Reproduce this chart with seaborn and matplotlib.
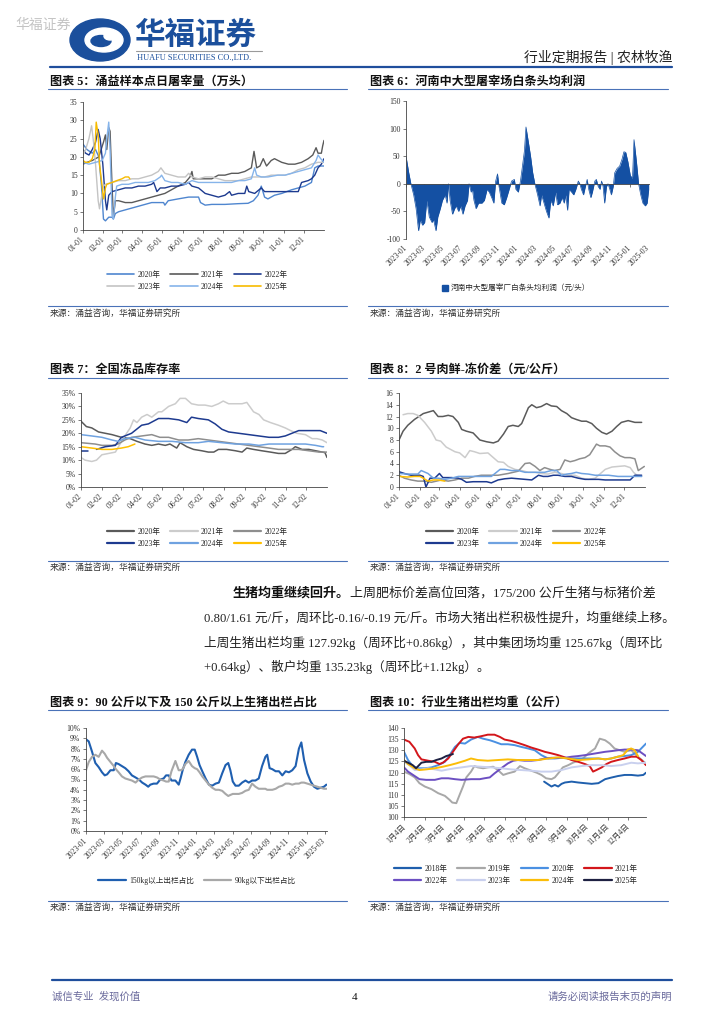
import numpy as np
import pandas as pd
import seaborn as sns
import matplotlib.pyplot as plt
from matplotlib.lines import Line2D
from matplotlib.patches import Patch, Ellipse

# ---------------- data ----------------
# 图表5 涌益样本点日屠宰量 (day of year, 万头)
c5_d20 = [0, 6, 14, 19, 24, 28, 31, 34, 39, 44, 46, 49, 54, 64, 74, 84, 94, 104, 114, 122, 124, 129, 144, 160, 175, 178, 185, 195, 215, 235, 250, 258, 265, 270, 275, 280, 290, 301, 316, 326, 336, 346, 351, 356, 365]
c5_v20 = [23.5, 22, 21, 22, 20, 12, 3, 2.5, 3.5, 3.5, 3, 4.5, 5, 5.5, 6, 6.5, 7, 7.5, 7.5, 7.5, 6.8, 8, 8.5, 9, 9, 7.5, 6.8, 7, 7, 7.2, 7.3, 8, 9.5, 12, 9, 8.5, 9.5, 10, 11, 11.5, 12, 13, 17, 17.5, 17.5]
c5_d21 = [0, 6, 14, 24, 31, 34, 36, 39, 41, 44, 46, 49, 54, 64, 74, 84, 94, 104, 114, 124, 134, 144, 155, 162, 165, 167, 175, 185, 195, 205, 215, 225, 235, 245, 255, 259, 263, 268, 273, 278, 285, 290, 301, 311, 321, 331, 341, 348, 353, 356, 361, 363, 365]
c5_v21 = [18, 18.5, 19, 20, 24, 26, 22, 28, 27, 12, 3.5, 8, 8, 7.5, 7.5, 8, 8.5, 9, 9.5, 10, 11, 12, 13, 14.5, 16, 14, 14, 14, 14, 15, 15, 15.5, 15.5, 16, 17, 21.5, 17, 17.5, 19.5, 17.5, 19, 19.5, 18.5, 18, 18, 18.5, 19.5, 20.5, 22.5, 21, 21, 23, 24.5]
c5_d22 = [0, 4, 9, 14, 19, 23, 26, 30, 34, 36, 39, 44, 54, 64, 74, 84, 94, 104, 107, 112, 117, 124, 134, 144, 155, 160, 165, 175, 185, 195, 205, 215, 222, 225, 235, 245, 248, 251, 260, 270, 275, 285, 295, 306, 316, 326, 331, 341, 346, 351, 356, 361, 365]
c5_v22 = [22, 21, 20.5, 22, 24, 27.5, 25, 18, 8, 5.5, 9.5, 10.5, 11, 11.5, 11.5, 12, 12, 12.5, 13, 10.5, 11.5, 11.5, 12, 12, 12.5, 13, 12, 11.5, 10, 9.5, 9, 9.5, 10.5, 9.5, 10, 10, 12, 10.5, 10, 11.5, 10.5, 10.5, 10.5, 10.5, 10.5, 10.5, 13, 13.5, 14, 15, 17, 18, 19.5]
c5_d23 = [0, 4, 9, 13, 16, 19, 23, 25, 28, 31, 34, 44, 54, 64, 74, 84, 94, 104, 114, 118, 122, 124, 134, 144, 155, 160, 165, 175, 185, 195, 205, 215, 225, 235, 245, 255, 265, 275, 285, 295, 306, 316, 326, 336, 346, 356, 365]
c5_v23 = [20.5, 22, 25, 28.5, 24, 18, 8, 5.8, 9, 12, 12.5, 13, 13.5, 13.5, 14, 14, 14.5, 15, 16, 17, 16, 15.5, 15, 14.5, 14.5, 15.5, 14.5, 14, 14.5, 14.5, 14, 13.5, 13.5, 13.5, 14, 14.5, 14.5, 14.5, 15, 15, 15, 15.5, 16.5, 17, 18, 18.5, 18.5]
c5_d24 = [0, 9, 19, 29, 34, 36, 39, 41, 44, 46, 49, 51, 59, 69, 79, 89, 99, 109, 117, 119, 124, 134, 144, 155, 165, 175, 185, 195, 205, 215, 225, 235, 245, 255, 260, 263, 270, 280, 295, 306, 316, 326, 336, 346, 353, 356, 360, 365]
c5_v24 = [18.5, 18, 18.5, 19, 21, 25, 29.5, 22, 4, 3, 9, 12, 12.5, 12.5, 13, 13, 13, 13.5, 14.5, 15, 13.5, 13, 13, 12.5, 13.5, 13, 13, 13, 13, 13, 13, 13.5, 13.5, 14, 17, 15, 14.5, 14.5, 15, 15, 15.5, 16, 16.5, 17, 19, 20.5, 19.5, 18.5]
c5_d25 = [0, 4, 9, 14, 18, 20, 23, 25, 29, 31, 34, 36, 44, 51, 59, 64, 69, 71]
c5_v25 = [19, 18.5, 18.5, 19.5, 22, 29.5, 26, 18, 12, 8.5, 11.5, 12.5, 13, 13.5, 14, 14.5, 14.5, 14]

# 图表6 河南中大型屠宰场白条头均利润 (days since 2023-01-01, 元/头)
c6_day = [0, 9, 16, 25, 33, 41, 47, 54, 61, 68, 76, 85, 90, 98, 104, 112, 119, 128, 134, 139, 144, 152, 159, 164, 172, 179, 186, 193, 201, 206, 213, 217, 222, 229, 237, 248, 256, 265, 272, 280, 287, 293, 299, 304, 313, 321, 329, 337, 345, 354, 359, 367, 374, 380, 387, 392, 400, 407, 414, 421, 430, 438, 443, 451, 459, 467, 473, 481, 489, 495, 503, 510, 517, 522, 528, 533, 541, 548, 555, 563, 568, 573, 580, 586, 592, 597, 604, 609, 617, 622, 628, 634, 639, 644, 649, 655, 660, 666, 671, 677, 682, 690, 698, 706, 712, 718, 725, 733, 740, 745, 753, 760, 767, 774, 782, 788, 793]
c6_val = [50, 20, 0, -20, -45, -85, -65, -75, -70, -30, -60, -70, -65, -85, -60, -45, -30, -20, -35, 0, -30, -55, -45, -40, -50, -40, -55, -40, -30, 0, -15, -10, -30, -45, -35, -35, -30, -10, -15, -25, -35, 5, 18, -5, -35, -38, -25, -10, 5, 8, -10, -15, 5, 30, 60, 103, 75, 50, 20, 0, -20, -40, -20, -35, -50, -62, -30, -40, -15, -38, -35, -25, -35, -20, -48, -10, -15, -20, -10, 5, 0, -10, -20, -5, 8, -10, -25, -15, 5, 8, -5, -10, 5, -5, -35, -5, 0, -10, -20, -5, 20, 28, 32, 45, 58, 57, 40, 15, 10, 80, 40, 0, -20, -35, -40, -35, -10]

# 图表7 全国冻品库存率 (days after 01-02, %)
c7_d20 = [0, 8, 16, 26, 46, 60, 73, 83, 95, 105, 115, 125, 132, 142, 147, 157, 167, 179, 189, 197, 204, 216, 229, 239, 246, 256, 268, 281, 293, 303, 313, 318, 328, 338, 348, 358, 362, 365]
c7_v20 = [24.5, 22.5, 22, 20.5, 19.5, 18.5, 18, 17, 16, 15.5, 16, 15.5, 16, 14.5, 16.5, 15, 14, 13.5, 13, 13, 14, 14, 13.5, 13, 14.5, 14, 13.5, 13, 12.5, 12.5, 14, 15, 14, 14, 13.5, 13, 12.8, 11]
c7_d21 = [0, 6, 16, 23, 31, 41, 51, 58, 65, 73, 78, 83, 90, 98, 105, 115, 120, 130, 140, 147, 155, 164, 174, 184, 194, 204, 211, 219, 229, 239, 246, 256, 264, 271, 281, 293, 303, 311, 320, 333, 343, 350, 358, 365]
c7_v21 = [11, 10, 9.5, 10, 12, 12.5, 13, 16, 19, 22, 25, 24, 26, 27, 26, 28, 28, 30, 31, 33, 33, 31, 30.5, 30.5, 30, 31, 32, 31, 31, 31, 31.5, 28, 27, 25, 24, 23, 22, 21, 20, 19.5, 18, 18, 17.5, 16.5]
c7_d22 = [0, 21, 31, 46, 55, 65, 75, 90, 105, 117, 130, 145, 159, 174, 189, 204, 219, 234, 249, 264, 279, 293, 308, 323, 338, 353, 365]
c7_v22 = [16.5, 16, 15.5, 15.5, 16, 17.5, 18.5, 19, 19.5, 18.5, 18.5, 17.5, 17.5, 18, 17.5, 17, 16.5, 16, 15.5, 15, 14.5, 14, 14, 14, 13.5, 13, 13]
c7_d23 = [0, 10, 16, 23, 36, 51, 60, 75, 90, 100, 115, 130, 145, 157, 164, 174, 189, 199, 209, 219, 234, 249, 264, 279, 293, 303, 313, 323, 343, 355, 365]
c7_v23 = [13.5, 13.5, np.nan, 14, 15, 15.5, 18.5, 20, 23, 23.5, 25.5, 25.5, 25, 24, 26, 25.5, 25, 23.5, 21.5, 20.5, 20, 19.5, 19, 18.5, 18.5, 19, 20, 21, 21, 21, 20]
c7_d24 = [0, 16, 31, 46, 55, 65, 80, 95, 115, 135, 155, 174, 189, 209, 229, 249, 264, 279, 293, 313, 333, 348, 358, 360]
c7_v24 = [19.5, 19, 18.5, 17.5, 17, 18, 18.5, 17.5, 17, 17, 16.5, 16.5, 17, 16.5, 16, 16, 15.5, 16, 16, 16, 16, 15.5, 15, 15]
c7_d25 = [0, 16, 31, 46, 60, 70, 80]
c7_v25 = [15, 14.5, 14, 14, 14.5, 15, 16]

# 图表8 2号肉鲜-冻价差 (day of year, 元/公斤)
c8_d20 = [0, 6, 13, 23, 36, 51, 58, 65, 73, 80, 88, 93, 100, 110, 120, 130, 140, 147, 155, 162, 169, 177, 182, 192, 197, 204, 211, 219, 226, 234, 241, 249, 256, 263, 271, 278, 286, 293, 301, 308, 316, 323, 330, 340, 350, 360]
c8_v20 = [8, 9.5, 10.5, 11.5, 12.5, 13, 12, 12, 12.2, 12, 11, 9.8, 9.5, 9.2, 8, 7.7, 7.5, 7.8, 9, 10.3, 10.5, 10.3, 10.8, 13.5, 14, 13.5, 13.7, 14.2, 13.8, 13.7, 13, 12.5, 11.8, 11.5, 11.2, 11.2, 10.8, 10, 9.3, 9, 9.5, 10.3, 11, 11.3, 11, 11]
c8_d21 = [6, 13, 21, 28, 38, 48, 55, 62, 70, 83, 90, 98, 105, 112, 120, 132, 140, 147, 155, 162, 172, 182, 192, 202, 211, 221, 231, 241, 251, 261, 271, 281, 291, 298, 306, 316, 325, 335, 343, 348, 353, 360]
c8_v21 = [12.3, 12.5, 12.5, 12.2, 11, 9.5, 8, 7.8, 6.8, 6, 5.8, 5, 6.2, 6, 5.7, 5.8, 5, 4.3, 4.2, 3.5, 3, 2.8, 2.5, 2.5, 2.3, 2.2, 2.5, 2.3, 2, 2, 1.5, 1.3, 1.5, 2.2, 3, 3.4, 3.5, 3.6, 3.3, 2.5, 2, 1.8]
c8_d22 = [0, 8, 18, 28, 38, 48, 63, 73, 83, 93, 103, 112, 122, 137, 147, 162, 177, 187, 194, 202, 209, 216, 224, 231, 239, 246, 254, 261, 268, 276, 283, 293, 298, 306, 313, 320, 328, 335, 343, 350, 355, 364]
c8_v22 = [2, 1.5, 1.2, 1, 1, 0.8, 1.2, 1, 1.2, 1.5, 1.5, 1.8, 2, 2, 2, 2.3, 2.7, 4, 4.1, 3.5, 2.8, 3.3, 3, 2.8, 3, 4.6, 4.3, 4.5, 4.8, 5, 5.5, 7.3, 7, 7, 6.8, 6, 5.3, 5, 5, 4.8, 2.8, 3.5]
c8_d23 = [0, 8, 18, 31, 36, 40, 46, 53, 60, 65, 78, 88, 93, 100, 110, 120, 130, 137, 147, 157, 167, 177, 187, 197, 207, 214, 221, 229, 236, 246, 256, 266, 276, 286, 296, 306, 316, 325, 335, 343, 350, 360]
c8_v23 = [2.6, 2.3, 2, 2, 1.8, 0, 1.5, 1.5, 2.3, 1.6, 1.6, 1.5, 1.3, 0.8, 0.9, 0.9, 0.9, 0.7, 1.2, 1.4, 1.5, 1.4, 1.3, 1.2, 2, 1.8, 1.8, 2, 2, 1.8, 1.8, 1.5, 1.3, 1.3, 1.3, 1.2, 1.2, 1.2, 1.2, 1.2, 2, 2]
c8_d24 = [0, 13, 28, 33, 43, 51, 58, 68, 78, 88, 98, 117, 137, 150, 157, 167, 177, 187, 207, 216, 226, 234, 241, 249, 256, 263, 271, 281, 291, 311, 325, 345, 360]
c8_v24 = [2.3, 2.2, 2.2, 2.8, 2.3, 1.5, 1.5, 1.3, 1.5, 1.8, 1.8, 1.8, 1.8, 3, 3, 2.8, 2.8, 2.5, 2.5, 2.5, 2.8, 2.8, 2, 2.2, 2.3, 2.5, 2.3, 2.2, 2, 2, 1.8, 1.8, 1.8]
c8_d25 = [0, 13, 23, 31, 36, 43, 51, 58, 68]
c8_v25 = [1.8, 1.7, 1.8, 1.8, 1.5, 1, 1.2, 1.2, 1]

# 图表9 90公斤以下及150公斤以上生猪出栏占比 (days since 2023-01-01, %)
c9_day = [0, 9, 20, 31, 42, 53, 62, 70, 81, 92, 99, 108, 119, 130, 141, 152, 164, 175, 186, 197, 206, 213, 224, 235, 246, 257, 265, 274, 283, 296, 307, 313, 320, 329, 340, 351, 360, 368, 376, 385, 396, 407, 418, 429, 440, 451, 462, 471, 478, 486, 495, 506, 517, 528, 539, 550, 561, 572, 583, 594, 600, 608, 617, 628, 639, 650, 661, 672, 683, 694, 705, 713, 722, 733, 744, 755, 766, 777, 788, 796]
c9_big = [8.9, 8.7, 7.7, 6.6, 6.2, 5.7, 5.4, 5.5, 5.9, 5.9, 6.6, 6.5, 6.3, 6.1, 5.8, 5.4, 5.2, 5.0, 4.7, 4.5, 4.3, 4.5, 4.6, 4.6, 5.0, 5.1, 5.4, 5.4, 4.9, 4.9, 4.5, 5.1, 5.9, 6.7, 7.4, 7.9, 7.9, 7.2, 6.4, 5.8, 5.1, 4.5, 4.4, 4.6, 4.7, 5.6, 6.4, 6.6, 5.9, 4.8, 4.4, 4.4, 4.7, 4.9, 4.7, 4.9, 4.9, 5.1, 6.3, 7.2, 7.4, 6.1, 6.0, 5.8, 5.8, 5.4, 5.8, 5.7, 5.9, 6.3, 8.0, 8.6, 6.9, 5.6, 4.8, 4.3, 4.1, 4.2, 4.3, 4.5]
c9_small = [5.9, 6.7, 7.2, 7.4, 7.2, 7.8, 7.5, 7.1, 6.7, 6.3, 6.0, 5.7, 5.3, 5.1, 5.0, 4.9, 4.7, 5.0, 5.2, 5.3, 5.3, 5.3, 5.3, 5.2, 5.0, 4.9, 4.8, 4.8, 5.8, 6.8, 5.9, 5.9, 6.0, 6.5, 6.8, 6.3, 6.1, 6.0, 5.7, 5.3, 4.9, 4.5, 4.2, 4.0, 4.0, 3.9, 3.6, 3.4, 3.5, 3.6, 3.6, 3.6, 3.7, 3.9, 4.0, 4.6, 4.3, 4.1, 4.1, 4.1, 4.0, 4.0, 4.0, 4.1, 4.3, 4.4, 4.6, 4.6, 4.5, 4.6, 4.6, 4.7, 4.7, 4.6, 4.5, 4.4, 4.3, 4.2, 4.1, 4.1]

# 图表10 行业生猪出栏均重 (days after 1月4日, 公斤)
c10_d18 = [209, 215, 220, 225, 230, 235, 240, 250, 260, 270, 280, 290, 300, 309, 319, 329, 339, 349, 357, 361]
c10_v18 = [115.9, 114.7, 113.7, 114.4, 113.7, 114.9, 115.5, 115.9, 115.5, 115.2, 114.9, 115.2, 117, 117.7, 118.4, 118.9, 118.9, 118.6, 118.9, 119.9]
c10_d19 = [0, 8, 16, 23, 31, 41, 51, 61, 68, 72, 78, 83, 88, 93, 100, 105, 110, 118, 125, 133, 140, 148, 155, 165, 173, 180, 190, 198, 205, 212, 220, 225, 230, 237, 245, 252, 260, 267, 275, 285, 292, 300, 307, 314, 322, 329, 339, 349, 361]
c10_v19 = [120.4, 119.3, 117.8, 115.2, 113.7, 112.5, 110.7, 109.5, 107.7, 106.5, 106.2, 110, 113.7, 117.8, 120.4, 122.9, 122.3, 121.9, 122.3, 122.6, 121.1, 118.9, 119.6, 120.4, 122.9, 121.9, 120.8, 119.9, 118.9, 117.4, 117, 117.8, 119.6, 122.3, 123.3, 124.4, 125.3, 126.3, 128.6, 130.8, 135.2, 134.5, 133, 130.8, 130, 129.3, 130, 127.1, 124]
c10_d20 = [0, 6, 13, 21, 31, 41, 51, 61, 68, 76, 83, 91, 100, 110, 118, 128, 135, 145, 155, 165, 175, 185, 195, 205, 215, 225, 235, 245, 260, 275, 290, 300, 309, 319, 329, 339, 349, 361]
c10_v20 = [129.3, 125.6, 122.9, 121.9, 121.9, 122.3, 123.3, 124.8, 127.8, 131.5, 133.3, 133, 134.8, 136, 135.2, 134.5, 133.8, 132.7, 132.7, 132.3, 131.5, 130.8, 130, 127.8, 126.3, 126.3, 126.6, 126.3, 126.3, 126.3, 126.3, 125.9, 126.3, 127.1, 127.4, 127.8, 129.3, 133]
c10_d21 = [0, 8, 16, 21, 26, 36, 46, 53, 58, 66, 73, 81, 88, 96, 105, 115, 125, 135, 143, 150, 160, 170, 180, 190, 200, 210, 220, 230, 240, 250, 260, 270, 277, 282, 287, 295, 302, 309, 319, 329, 339, 347, 354, 361]
c10_v21 = [134.8, 133.8, 130.8, 127.8, 125.9, 125.3, 124.8, 123.8, 124.4, 126.3, 129.3, 132.7, 135.2, 136, 135.7, 136.3, 137, 137, 136, 134.8, 134.2, 133.3, 132.3, 131.2, 130.3, 129.3, 128.6, 127.8, 126.8, 125.6, 124.8, 123.8, 122.9, 120.4, 121.1, 122.3, 123.8, 124.8, 125.6, 126.3, 127.1, 127.1, 125.6, 123.3]
c10_d22 = [0, 6, 16, 23, 33, 46, 56, 66, 76, 86, 100, 113, 120, 128, 135, 145, 155, 163, 170, 180, 190, 200, 210, 220, 230, 240, 250, 260, 270, 280, 290, 300, 309, 319, 329, 339, 349, 361]
c10_v22 = [122.3, 120.4, 118.4, 117, 116.7, 116.7, 117.4, 117.4, 117, 116.7, 117, 117, 117.4, 117.8, 119.6, 121.9, 124.1, 125.3, 125.6, 125.3, 125.3, 125.6, 126.3, 126.6, 126.6, 126.6, 127.1, 127.4, 127.8, 128.3, 128.8, 129.3, 129.6, 130, 130.3, 130.3, 130, 127.4]
c10_d23 = [0, 8, 16, 26, 36, 46, 56, 66, 76, 86, 100, 115, 130, 145, 160, 175, 190, 205, 220, 235, 250, 265, 280, 295, 309, 324, 339, 349, 361]
c10_v23 = [124.8, 123.3, 121.1, 121.4, 121.9, 121.4, 120.8, 121.4, 121.9, 122.3, 122.9, 122.6, 122.3, 121.9, 121.4, 121.1, 120.8, 120.4, 120.4, 121.1, 122.3, 122.9, 123.3, 123.3, 122.9, 123.3, 124.4, 124.1, 124.4]
c10_d24 = [0, 6, 16, 23, 33, 46, 58, 68, 78, 91, 100, 110, 125, 140, 155, 170, 185, 200, 215, 230, 245, 260, 275, 290, 300, 309, 319, 327, 334, 339, 344, 349]
c10_v24 = [125.6, 123.8, 121.9, 121.1, 121.4, 121.9, 122.6, 123.3, 124.1, 125.3, 126.3, 125.6, 125.3, 125.6, 125.9, 125.6, 125.6, 125.6, 126.3, 126.8, 126.3, 125.6, 125.9, 126.3, 125.9, 126.3, 127.1, 127.8, 130.3, 130.8, 130, 127.4]
c10_d25 = [0, 6, 13, 18, 26, 33, 41, 48, 56, 63, 68, 73]
c10_v25 = [125.3, 124.4, 123.3, 121.9, 124.4, 124.8, 124.8, 125.6, 126.3, 127.4, 127.8, 128.3]

years6 = ['2020年', '2021年', '2022年', '2023年', '2024年', '2025年']
years8 = ['2018年', '2019年', '2020年', '2021年', '2022年', '2023年', '2024年', '2025年']
md_01 = ['01-01', '02-01', '03-01', '04-01', '05-01', '06-01', '07-01', '08-01', '09-01', '10-01', '11-01', '12-01']
md_02 = ['01-02', '02-02', '03-02', '04-02', '05-02', '06-02', '07-02', '08-02', '09-02', '10-02', '11-02', '12-02']
md_cn = ['1月4日', '2月4日', '3月4日', '4月4日', '5月4日', '6月4日', '7月4日', '8月4日', '9月4日', '10月4日', '11月4日', '12月4日']
month_off = [0, 31, 59, 90, 120, 151, 181, 212, 243, 273, 304, 334]

# ---------------- style ----------------
sns.set_theme(style='white')
plt.rcParams['font.family'] = ['Liberation Serif', 'Noto Sans CJK SC', 'DejaVu Sans']
plt.rcParams['axes.unicode_minus'] = False

W, H = 724, 1024
fig = plt.figure(figsize=(W / 100, H / 100), dpi=100)
fig.patch.set_facecolor('white')

bg = fig.add_axes([0, 0, 1, 1])
bg.set_xlim(0, W)
bg.set_ylim(H, 0)
bg.axis('off')

BLUE = '#1f4e9c'
RULE = '#4a72b8'


def rect(l, t, r, b):
    return [l / W, 1 - b / H, (r - l) / W, (b - t) / H]


def draw_lines(ax, xs, ys, colors, lw):
    for x, y, c in zip(xs, ys, colors):
        x = pd.Series(x)
        y = np.asarray(y, dtype=float)
        gaps = list(np.where(np.isnan(y))[0])
        starts = [0] + [g + 1 for g in gaps]
        ends = gaps + [len(y)]
        for s, e in zip(starts, ends):
            if e - s > 1:
                sns.lineplot(x=x.iloc[s:e].values, y=y[s:e], ax=ax, color=c,
                             lw=lw, legend=False, sort=False)


def style_ax(ax, ylim, yticks, ylabels, xlim, xticks, xlabels):
    ax.set_xlim(*xlim)
    ax.set_ylim(*ylim)
    ax.set_yticks(yticks)
    ax.set_yticklabels(ylabels, fontsize=5.5, color='#333333')
    ax.set_xticks(xticks)
    ax.set_xticklabels(xlabels, rotation=45, ha='right', va='center',
                       rotation_mode='anchor', fontsize=5.5, color='#333333')
    ax.set_xlabel('')
    ax.set_ylabel('')
    ax.set_facecolor('none')
    for s in ['top', 'right']:
        ax.spines[s].set_visible(False)
    for s in ['left', 'bottom']:
        ax.spines[s].set_color('#444444')
        ax.spines[s].set_linewidth(0.6)
    ax.tick_params(axis='both', length=2, width=0.5, color='#444444', pad=2,
                   bottom=True, left=True)
    ax.tick_params(axis='x', pad=4)


def legend(ax, labels, colors, cx, cy, ncol, lw=1.2, nrows=1):
    handles = [Line2D([0], [0], color=c, lw=lw) for c in colors]
    order = [r * ncol + c for c in range(ncol) for r in range(nrows)]
    ax.legend([handles[i] for i in order], [labels[i] for i in order],
              loc='center', bbox_to_anchor=(cx / W, 1 - cy / H),
              bbox_transform=fig.transFigure, ncol=ncol, frameon=False,
              fontsize=5.5, handlelength=3.6, columnspacing=1.3,
              labelspacing=0.55, handletextpad=0.4, borderpad=0)


def block(x0, x1, ty, ly, sy, srcy, title):
    bg.text(x0 + 2, ty, title, fontsize=8.7, fontweight='bold', va='center', color='#111111')
    bg.plot([x0, x1], [ly, ly], color=RULE, lw=0.8)
    bg.plot([x0, x1], [sy, sy], color=RULE, lw=0.8)
    bg.text(x0 + 2, srcy, '来源：涌益咨询，华福证券研究所', fontsize=6.3, va='center', color='#333333')


# ---------------- header / footer ----------------
bg.text(15, 25, '华福证券', fontsize=10, color='#c4c4c4', va='center', family='Noto Sans CJK SC')
bg.add_patch(Ellipse((100, 40), 60, 42, color='#1b4f9c'))
bg.add_patch(Ellipse((104, 40), 38, 24, color='white'))
bg.add_patch(Ellipse((101, 41), 20, 11, color='#1b4f9c'))
bg.add_patch(Ellipse((110, 36), 12, 8, color='white'))
bg.text(134, 35, '华福证券', fontsize=22, fontweight='bold', color='#1b4f9c', va='center',
        family='Noto Sans CJK SC')
bg.plot([136, 262], [51, 51], color='#9a9a9a', lw=0.8)
bg.text(137, 57.5, 'HUAFU SECURITIES CO.,LTD.', fontsize=6, color='#1b4f9c', va='center')
bg.text(672, 57, '行业定期报告 | 农林牧渔', fontsize=10, ha='right', va='center', color='#222222')
bg.plot([50, 672], [67, 67], color=BLUE, lw=1.6)

bg.plot([52, 672], [980, 980], color=BLUE, lw=1.6)
bg.text(52, 997, '诚信专业  发现价值', fontsize=7.5, va='center', color='#6a6a9c')
bg.text(355, 997, '4', fontsize=8, va='center', ha='center', color='#111111')
bg.text(672, 997, '请务必阅读报告末页的声明', fontsize=7.5, va='center', ha='right', color='#6a6a9c')

block(48, 347, 82, 89, 306, 313, '图表 5：涌益样本点日屠宰量（万头）')
block(368, 668, 82, 89, 306, 313, '图表 6：河南中大型屠宰场白条头均利润')
block(48, 347, 370, 378, 561, 567, '图表 7：全国冻品库存率')
block(368, 668, 370, 378, 561, 567, '图表 8：2 号肉鲜-冻价差（元/公斤）')
block(48, 347, 703, 710, 901, 907, '图表 9：90 公斤以下及 150 公斤以上生猪出栏占比')
block(368, 668, 703, 710, 901, 907, '图表 10：行业生猪出栏均重（公斤）')

# ---------------- paragraph ----------------
t1 = bg.text(233, 593, '生猪均重继续回升。', fontsize=9.4, fontweight='bold', va='center', color='#111111')
bg.annotate('上周肥标价差高位回落，175/200 公斤生猪与标猪价差', xy=(1, 0.5), xycoords=t1,
            va='center', fontsize=9.4, color='#222222')
para = ['0.80/1.61 元/斤，周环比-0.16/-0.19 元/斤。市场大猪出栏积极性提升，均重继续上移。',
        '上周生猪出栏均重 127.92kg（周环比+0.86kg），其中集团场均重 125.67kg（周环比',
        '+0.64kg）、散户均重 135.23kg（周环比+1.12kg）。']
for yy, line in zip([618, 643, 667], para):
    bg.text(204, yy, line, fontsize=9.1, va='center', color='#222222')

# ---------------- chart 5 ----------------
c5_col = ['#4f86cf', '#5a5a5a', '#1d3a8f', '#c4c4c4', '#86b4ea', '#f7bb00']
ax5 = fig.add_axes(rect(83, 102, 324, 230))
draw_lines(ax5, [c5_d20, c5_d21, c5_d22, c5_d23, c5_d24, c5_d25],
           [c5_v20, c5_v21, c5_v22, c5_v23, c5_v24, c5_v25], c5_col, 1.0)
style_ax(ax5, (0, 35), range(0, 36, 5), [str(v) for v in range(0, 36, 5)],
         (0, 365), month_off, md_01)
legend(ax5, years6, c5_col, 197, 281, 3, nrows=2)

# ---------------- chart 6 ----------------
base = pd.Timestamp('2023-01-01')
c6_dates = base + pd.to_timedelta(c6_day, unit='D')
ax6 = fig.add_axes(rect(406, 101, 649, 239))
ax6.spines['bottom'].set_position(('data', 0))
ax6.fill_between(c6_dates, c6_val, 0, color='#1450a3', lw=0)
sns.lineplot(x=c6_dates, y=c6_val, ax=ax6, color='#1450a3', lw=0.5, legend=False)
t6 = pd.date_range('2023-01-01', '2025-03-01', freq='2MS')
style_ax(ax6, (-100, 150), range(-100, 151, 50), [str(v) for v in range(-100, 151, 50)],
         (base, base + pd.Timedelta(days=794)), t6, [d.strftime('%Y-%m') for d in t6])
ax6.tick_params(axis='x', pad=43)
ax6.legend([Patch(color='#1450a3')], ['河南中大型屠宰厂白条头均利润（元/头）'], loc='center',
           bbox_to_anchor=(516 / W, 1 - 289 / H), bbox_transform=fig.transFigure,
           frameon=False, fontsize=5.5, handlelength=0.8, handleheight=0.8, handletextpad=0.4)

# ---------------- chart 7 ----------------
c7_col = ['#5a5a5a', '#cccccc', '#8e8e8e', '#1d3a8f', '#6fa2e0', '#ffc000']
ax7 = fig.add_axes(rect(81, 393, 327, 487))
draw_lines(ax7, [c7_d20, c7_d21, c7_d22, c7_d23, c7_d24, c7_d25],
           [c7_v20, c7_v21, c7_v22, c7_v23, c7_v24, c7_v25], c7_col, 1.1)
style_ax(ax7, (0, 35), range(0, 36, 5), [f'{v}%' for v in range(0, 36, 5)],
         (0, 365), month_off, md_02)
legend(ax7, years6, c7_col, 197, 538, 3, lw=1.6, nrows=2)

# ---------------- chart 8 ----------------
ax8 = fig.add_axes(rect(399, 393, 645, 487))
draw_lines(ax8, [c8_d20, c8_d21, c8_d22, c8_d23, c8_d24, c8_d25],
           [c8_v20, c8_v21, c8_v22, c8_v23, c8_v24, c8_v25], c7_col, 1.1)
style_ax(ax8, (0, 16), range(0, 17, 2), [str(v) for v in range(0, 17, 2)],
         (0, 365), month_off, md_01)
legend(ax8, years6, c7_col, 516, 538, 3, lw=1.6, nrows=2)

# ---------------- chart 9 ----------------
c9_dates = base + pd.to_timedelta(c9_day, unit='D')
c9_col = ['#1f5fb0', '#a8a8a8']
ax9 = fig.add_axes(rect(86, 728, 327, 831))
draw_lines(ax9, [c9_dates, c9_dates], [c9_big, c9_small], c9_col, 1.5)
style_ax(ax9, (0, 10), range(0, 11), [f'{v}%' for v in range(0, 11)],
         (base, base + pd.Timedelta(days=798)), t6, [d.strftime('%Y-%m') for d in t6])
legend(ax9, ['150kg以上出栏占比', '90kg以下出栏占比'], c9_col, 197, 881, 2, lw=1.6)

# ---------------- chart 10 ----------------
c10_col = ['#1f5fad', '#a8a8a8', '#4a90e2', '#d3161b', '#6c4fc2', '#c9d0ee', '#fbbd08', '#1e2142']
ax10 = fig.add_axes(rect(404, 728, 646, 817))
draw_lines(ax10, [c10_d18, c10_d19, c10_d20, c10_d21, c10_d22, c10_d23, c10_d24, c10_d25],
           [c10_v18, c10_v19, c10_v20, c10_v21, c10_v22, c10_v23, c10_v24, c10_v25], c10_col, 1.4)
style_ax(ax10, (100, 140), range(100, 141, 5), [str(v) for v in range(100, 141, 5)],
         (0, 361), month_off, md_cn)
legend(ax10, years8, c10_col, 516, 875, 4, lw=1.6, nrows=2)

fig.savefig('out.png', dpi=100)
